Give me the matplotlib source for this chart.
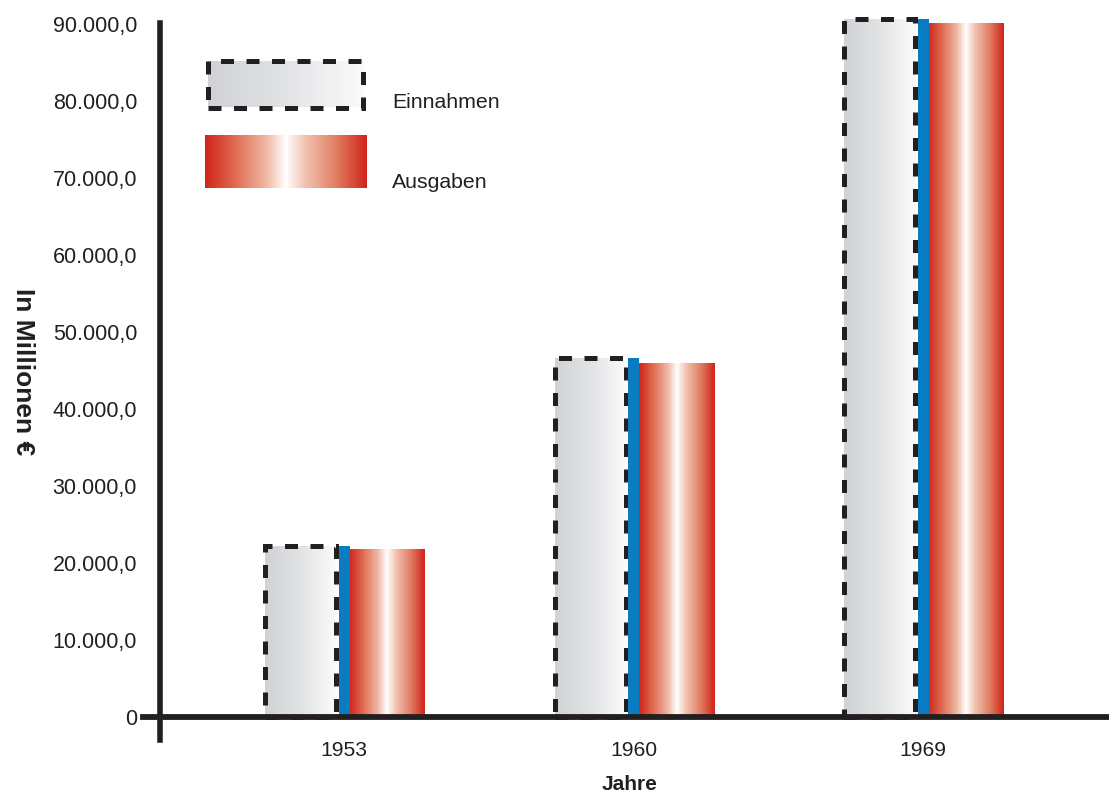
import numpy as np
import matplotlib
matplotlib.use("Agg")
import matplotlib.pyplot as plt
from matplotlib.colors import LinearSegmentedColormap
from matplotlib.patches import Rectangle

# Bundeshaushalt: Einnahmen und Ausgaben in Millionen Euro
jahre = ["1953", "1960", "1969"]
einnahmen = [22200, 46700, 90600]
ausgaben = [21870, 46000, 90130]
y_ticks = [0, 10000, 20000, 30000, 40000, 50000, 60000, 70000, 80000, 90000]

W, H = 1109, 799
DARK = "#231f20"
BLUE = "#0a7dc2"
DASH = (0, (2.6, 2.5))

plt.rcParams["font.family"] = ["Liberation Sans", "DejaVu Sans"]

grau = LinearSegmentedColormap.from_list("grau", ["#d0d2d5", "#e2e3e5", "#fbfbfb"])
rot = LinearSegmentedColormap.from_list(
    "rot",
    [(0.0, "#d0241a"), (0.18, "#df6a50"), (0.38, "#f0b8a4"), (0.5, "#ffffff"),
     (0.62, "#f2c2b0"), (0.82, "#e07a60"), (1.0, "#d0241a")])
grad = np.linspace(0, 1, 256).reshape(1, -1)


def px(x, y):
    return x / W, 1 - y / H


fig = plt.figure(figsize=(W / 100, H / 100), dpi=100)
ax = fig.add_axes([160 / W, 1 - 740 / H, 948 / W, 717 / H])

x = np.arange(len(jahre))
box_w, strip_w, bar_w = 0.2453, 0.038, 0.2625

# dashed Einnahmen boxes with grey fill
boxes = ax.bar(x - 0.150, einnahmen, width=box_w, facecolor="none", edgecolor=DARK,
               linewidth=3.6, linestyle=DASH, zorder=4, clip_on=False)
for b in boxes:
    im = ax.imshow(grad, cmap=grau, aspect="auto", zorder=2,
                   extent=[b.get_x(), b.get_x() + b.get_width(), 0, b.get_height()])
    im.set_clip_path(b)

# blue strip next to each box
ax.bar(x, einnahmen, width=strip_w, color=BLUE, zorder=5, clip_on=False)

# Ausgaben bars with red gradient
reds = ax.bar(x + 0.150, ausgaben, width=bar_w, facecolor="none", zorder=3, clip_on=False)
for b in reds:
    im = ax.imshow(grad, cmap=rot, aspect="auto", zorder=3,
                   extent=[b.get_x(), b.get_x() + b.get_width(), 0, b.get_height()])
    im.set_clip_path(b)

ax.set_xlim(-0.6356, 2.639)
ax.set_ylim(-2920, 90130)

for s in ["top", "right", "bottom"]:
    ax.spines[s].set_visible(False)
ax.spines["left"].set_linewidth(4)
ax.spines["left"].set_color(DARK)
ax.axhline(0, xmin=-17 / 948, xmax=1, color=DARK, linewidth=4.2, clip_on=False, zorder=6)

ax.set_yticks(y_ticks)
ax.set_yticklabels(["0" if v == 0 else f"{v:,.1f}".replace(",", "X").replace(".", ",").replace("X", ".")
                    for v in y_ticks])
ax.set_xticks(x)
ax.set_xticklabels(jahre)
ax.tick_params(axis="y", length=0, pad=16.5, labelsize=15.5, labelcolor=DARK)
ax.tick_params(axis="x", length=0, pad=1, labelsize=15.2, labelcolor=DARK)

fig.text(*px(630, 784), "Jahre", ha="center", va="center", fontsize=15,
         fontweight="bold", color=DARK)
fig.text(*px(23, 372), "In Millionen €", ha="center", va="center", rotation=-90,
         fontsize=19, fontweight="bold", color=DARK)

# legend swatches
lx0, ly0 = px(207.5, 107.5)
lx1, ly1 = px(363.3, 60.8)
sw = fig.add_axes([lx0, ly0, lx1 - lx0, ly1 - ly0])
sw.imshow(grad, cmap=grau, aspect="auto")
sw.axis("off")
fig.add_artist(Rectangle((lx0, ly0), lx1 - lx0, ly1 - ly0, transform=fig.transFigure,
                         facecolor="none", edgecolor=DARK, linewidth=3.6, linestyle=DASH))

rx0, ry0 = px(205, 188)
rx1, ry1 = px(367, 135)
sr = fig.add_axes([rx0, ry0, rx1 - rx0, ry1 - ry0])
sr.imshow(grad, cmap=rot, aspect="auto")
sr.axis("off")

fig.text(*px(392, 103), "Einnahmen", ha="left", va="center", fontsize=15.3, color=DARK)
fig.text(*px(392, 182), "Ausgaben", ha="left", va="center", fontsize=15.3, color=DARK)

fig.savefig("out.png", dpi=100)
